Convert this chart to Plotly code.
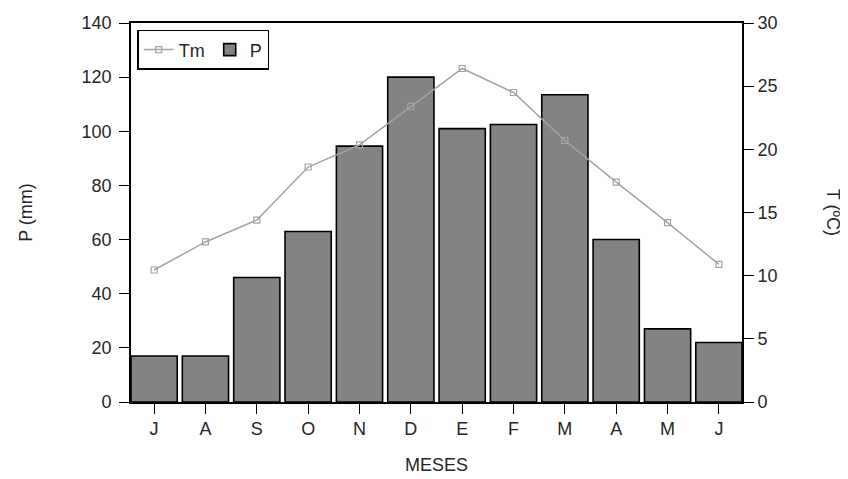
import plotly.graph_objects as go

months = ["J", "A", "S", "O", "N", "D", "E", "F", "M", "A", "M", "J"]
precip = [17, 17, 46, 63, 94.5, 120, 101, 102.5, 113.5, 60, 27, 22]
temp = [10.45, 12.67, 14.4, 18.6, 20.35, 23.4, 26.4, 24.5, 20.7, 17.4, 14.2, 10.9]

idx = list(range(len(months)))
FONT = "Liberation Sans, Arial, sans-serif"
TXT = "#262626"
FS = 18

fig = go.Figure()
fig.add_trace(go.Scatter(
    x=idx, y=temp, name="Tm", yaxis="y2", mode="lines+markers",
    line=dict(color="#a3a3a3", width=1.5),
    marker=dict(symbol="square-open", size=6, color="#a3a3a3", line=dict(width=1.2)),
))
fig.add_trace(go.Bar(
    x=idx, y=precip, name="P", yaxis="y",
    marker=dict(color="#838383", line=dict(color="black", width=1.6)),
))

axis_common = dict(
    showline=True, linecolor="black", linewidth=1.6,
    ticks="outside", ticklen=10, tickwidth=1.4, tickcolor="black",
    showgrid=False, zeroline=False, automargin=False,
    tickfont=dict(family=FONT, size=FS, color=TXT),
)

fig.update_layout(
    width=840, height=471,
    margin=dict(l=123, r=106, t=15, b=77),
    paper_bgcolor="white", plot_bgcolor="white",
    bargap=0.1,
    showlegend=True,
    legend=dict(
        orientation="h", x=0.01, y=0.982, xanchor="left", yanchor="top",
        bordercolor="black", borderwidth=1.6, bgcolor="white",
        font=dict(family=FONT, size=FS, color=TXT),
        itemwidth=30, tracegroupgap=0,
    ),
    xaxis=dict(
        **axis_common, mirror=True,
        tickmode="array", tickvals=idx, ticktext=months,
        range=[-0.45, 11.45],
        title=dict(text="MESES", font=dict(family=FONT, size=FS, color=TXT), standoff=20),
    ),
    yaxis=dict(
        **axis_common,
        range=[0, 140], dtick=20, tick0=0, ticklabelstandoff=4,
        title=dict(text="P (mm)", font=dict(family=FONT, size=FS, color=TXT), standoff=44),
    ),
    yaxis2=dict(
        **axis_common,
        overlaying="y", side="right",
        range=[0, 30], dtick=5, tick0=0,
    ),
)

fig.add_annotation(
    text="T (ºC)", textangle=90, xref="paper", yref="paper",
    x=1.15, y=0.5, xanchor="center", yanchor="middle", showarrow=False,
    font=dict(family=FONT, size=FS, color=TXT),
)

fig.write_html("out.html")
